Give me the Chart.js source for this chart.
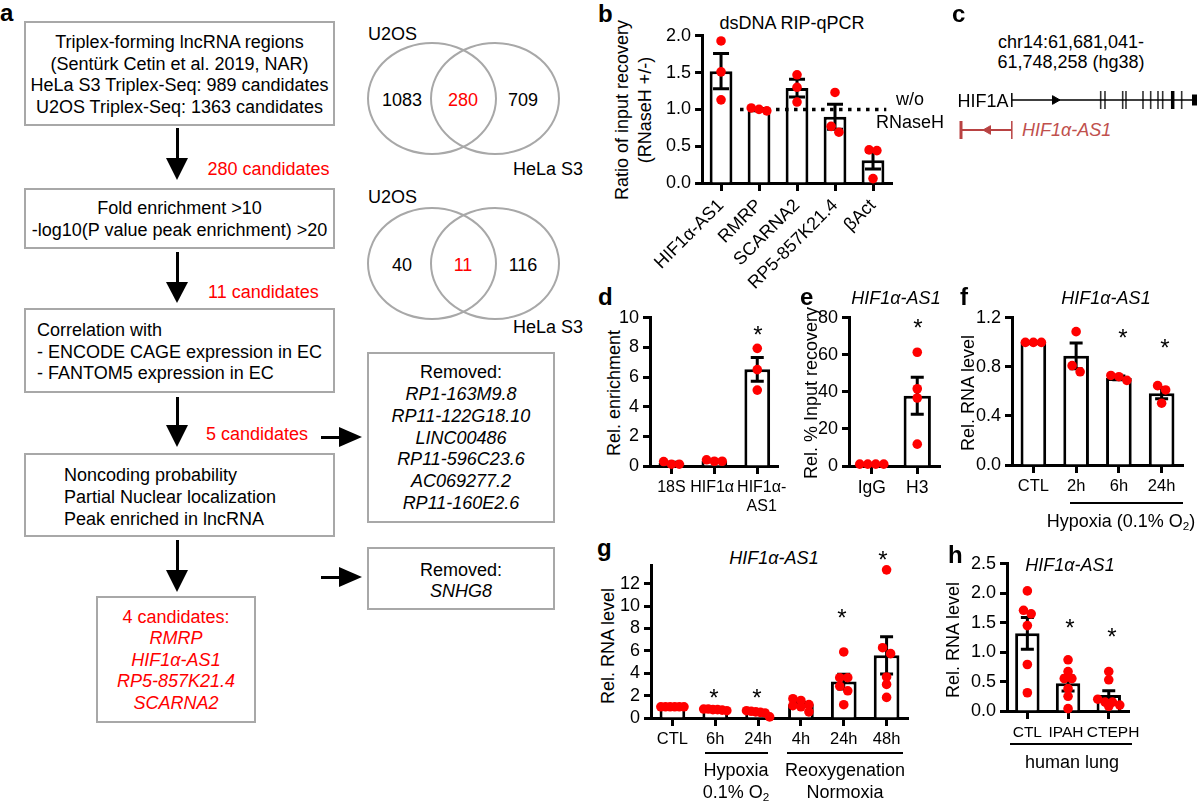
<!DOCTYPE html>
<html><head><meta charset="utf-8">
<script src="https://cdn.jsdelivr.net/npm/chart.js@4.4.1/dist/chart.umd.min.js"></script>
<style>
html,body{margin:0;padding:0;background:#fff}
body{width:1200px;height:802px;position:relative;overflow:hidden;font-family:"Liberation Sans",Arial,Helvetica,sans-serif;color:#000}
.t{position:absolute;white-space:nowrap;line-height:1;font-size:18px}
.box{position:absolute;box-sizing:border-box;border:2.5px solid #a8a8a8}
.ln{position:absolute;background:#000}
.tri{position:absolute;width:0;height:0}
.ell{position:absolute;box-sizing:border-box;border:2px solid #a8a8a8;border-radius:50%}
canvas{position:absolute}
sub{font-size:65%;vertical-align:-0.25em;line-height:0}
</style></head><body>
<script>
// ================= DATA =================
// Panel a (flow chart + Venn counts)
const box1Lines = ['Triplex-forming lncRNA regions','(Sentürk Cetin et al. 2019, NAR)','HeLa S3 Triplex-Seq: 989 candidates','U2OS Triplex-Seq: 1363 candidates'];
const box2Lines = ['Fold enrichment &gt;10','-log10(P value peak enrichment) &gt;20'];
const box3Lines = ['Correlation with','- ENCODE CAGE expression in EC','- FANTOM5 expression in EC'];
const box4Lines = ['Noncoding probability','Partial Nuclear localization','Peak enriched in lncRNA'];
const stepCounts = ['280 candidates','11 candidates','5 candidates'];
const finalCandidates = ['RMRP','HIF1α-AS1','RP5-857K21.4','SCARNA2'];
const removed1 = ['RP1-163M9.8','RP11-122G18.10','LINC00486','RP11-596C23.6','AC069277.2','RP11-160E2.6'];
const removed2 = ['SNHG8'];
const venn1 = [1083, 280, 709];
const venn2 = [40, 11, 116];
const vennSets = ['U2OS','HeLa S3'];

// Panel b
const bCats = ['HIF1α-AS1','RMRP','SCARNA2','RP5-857K21.4','βAct'];
const bMeans = [1.52, 1.00, 1.29, 0.90, 0.31];
const bSems = [0.24, 0.012, 0.12, 0.17, 0.12];
const bPoints = [[1.93,1.51,1.13],[0.98,1.02,1.00],[1.47,1.30,1.10],[1.23,0.77,0.69],[0.45,0.44,0.06]];
const bTicks = [0,0.5,1.0,1.5,2.0];
const bRef = 1.0;

// Panel c (hg38 coordinates)
const cRange = [61681041, 61748258];
const hifLine = [61695513, 61748258];
const hifExonsThin = [61720828,61722052,61727093,61728033,61732875,61735068,61737147,61738485,61743896];
const hifStartTick = [61695513];
const hifExonsThick = [61741333];
const hifExonEnd = [61747541];
const hifStrand = [61707812];
const asLine = [61681041, 61695513];
const asStrand = [61688731];

// Panel d
const dCats = ['18S','HIF1α ',['  HIF1α-','  AS1']];
const dMeans = [0.22, 0.35, 6.52];
const dSems = [0.04, 0.04, 0.80];
const dPoints = [[0.12,0.30,0.12],[0.32,0.42,0.32],[7.94,6.50,5.12]];
const dTicks = [0,2,4,6,8,10];

// Panel e
const eCats = ['IgG','H3'];
const eMeans = [1.0, 37.9];
const eSems = [0, 10.0];
const ePoints = [[1,1,1,1],[61.4,41.7,36.7,11.8]];
const eTicks = [0,20,40,60,80];

// Panel f
const fCats = ['CTL','2h','6h','24h'];
const fMeans = [1.0, 0.89, 0.71, 0.585];
const fSems = [0, 0.105, 0.015, 0.045];
const fPoints = [[1,1,1],[1.087,0.81,0.76],[0.69,0.72,0.73],[0.647,0.612,0.504]];
const fTicks = [0,0.2,0.4,0.6,0.8,1.0,1.2];

// Panel g
const gCats = ['CTL','6h','24h','4h','24h','48h'];
const gMeans = [1.0, 0.75, 0.5, 1.22, 3.26, 5.6];
const gSems = [0, 0.03, 0.08, 0.16, 0.66, 1.66];
const gPoints = [[1,1,1,1,1,1],[0.8,0.75,0.8,0.7,0.75,0.65],[0.65,0.6,0.55,0.5,0.45,0.1],[1.72,1.57,1.2,1.1,1.0,0.55],[5.9,3.6,3.6,2.84,2.43,1.19],[13.24,6.28,5.75,3.67,3.0,1.84]];
const gTicks = [0,2,4,6,8,10,12];

// Panel h
const hCats = ['CTL','IPAH ','  CTEPH'];
const hMeans = [1.32, 0.47, 0.27];
const hSems = [0.27, 0.13, 0.075];
const hPoints = [[2.04,1.71,1.65,1.45,0.79,0.31],[0.87,0.67,0.55,0.55,0.38,0.25,0.04],[0.67,0.53,0.2,0.15,0.15,0.1,0.08]];
const hTicks = [0,0.5,1.0,1.5,2.0,2.5];

// ================= HELPERS =================
const RED = '#ff0000';
function T(x,y,html,o={}){
  const d=document.createElement('div'); d.className='t'; d.innerHTML=html;
  d.style.left=x+'px'; d.style.top=y+'px';
  if(o.size) d.style.fontSize=o.size+'px';
  if(o.color) d.style.color=o.color;
  if(o.it) d.style.fontStyle='italic';
  if(o.bold) d.style.fontWeight='bold';
  let tr = o.align==='l' ? 'translate(0,-50%)' : 'translate(-50%,-50%)';
  if(o.rot) tr += ' rotate(-90deg)';
  d.style.transform=tr;
  document.body.appendChild(d); return d;
}
function R(x,y,w,h,cls,extra){
  const d=document.createElement('div'); d.className=cls;
  Object.assign(d.style,{left:x+'px',top:y+'px',width:w+'px',height:h+'px'},extra||{});
  document.body.appendChild(d); return d;
}
function vArrow(x,y1,y2,hl){
  R(x-1.5,y1,3,y2-hl-y1+1,'ln');
  R(x-11,y2-hl,0,0,'tri',{borderLeft:'11px solid transparent',borderRight:'11px solid transparent',borderTop:hl+'px solid #000'});
}
function hArrow(x1,x2,y,hl){
  R(x1,y-1.5,x2-hl-x1+1,3,'ln');
  R(x2-hl,y-10,0,0,'tri',{borderTop:'10px solid transparent',borderBottom:'10px solid transparent',borderLeft:hl+'px solid #000'});
}
function star(x,y){ T(x,y+5,'*',{size:24}); }
function letter(x,y,s){ T(x,y,s,{bold:true,size:24,align:'l'}); }
function hline(x1,x2,y){ R(x1,y-1,x2-x1,2,'ln'); }

// ================= PANEL A =================
letter(0,13,'a');
R(24,21,311,105,'box'); box1Lines.forEach((s,i)=>T(179.5,42+i*21.5,s));
vArrow(177,128,180,22);
T(268.5,169,stepCounts[0],{color:RED});
R(24,188,311,61,'box'); box2Lines.forEach((s,i)=>T(179.5,208+i*22,s));
vArrow(177,252,303,21);
T(263.5,292,stepCounts[1],{color:RED});
R(24,308,311,85,'box'); box3Lines.forEach((s,i)=>T(37,330+i*21.5,s,{align:'l'}));
vArrow(177,397,447,22);
T(257,434,stepCounts[2],{color:RED});
hArrow(321,362,437,23);
R(24,453,311,84,'box'); box4Lines.forEach((s,i)=>T(64,475+i*22,s,{align:'l'}));
vArrow(177,540,592,22);
hArrow(321,362,577,23);
R(96,596,160,127,'box');
T(176,617,finalCandidates.length+' candidates:',{color:RED});
finalCandidates.forEach((s,i)=>T(176,638+i*21.5,s,{color:RED,it:true}));
R(367,352,188,171,'box');
T(461,372,'Removed:'); removed1.forEach((s,i)=>T(461,394+i*21.8,s,{it:true}));
R(367,547,188,63,'box');
T(461,570,'Removed:'); removed2.forEach((s,i)=>T(461,591,s,{it:true}));
// Venn diagrams
[[42,venn1,34,169,100],[207,venn2,197,327,265]].forEach(([top,v,ly,hy,ny])=>{
  R(367,top,130,113,'ell'); R(430,top,130,113,'ell');
  T(392.5,ly,vennSets[0]); T(548,hy,vennSets[1]);
  T(402,ny,String(v[0])); T(463,ny,String(v[1]),{color:RED}); T(523,ny,String(v[2]));
});

// ================= CHARTS =================
Chart.defaults.font.family='"Liberation Sans", Arial, Helvetica, sans-serif';
Chart.defaults.font.size=18;
Chart.defaults.color='#000';

function swarm(vals,pxU,barW){
  const thr=6.3, step=8;
  const idx=vals.map((v,i)=>i).sort((a,b)=>vals[b]-vals[a]);
  const off=new Array(vals.length).fill(0);
  let row=[];
  const flush=()=>{const k=row.length; if(!k) return; const s=k>1?Math.min(step,(barW*0.9)/(k-1)):0; row.forEach((i,j)=>off[i]=(j-(k-1)/2)*s); row=[];};
  idx.forEach(i=>{ if(row.length && (vals[row[0]]-vals[i])*pxU>thr) flush(); row.push(i); });
  flush();
  return off;
}

function barChart(A,cats,means,sems,pts,yr,yTicks,fmt,o={}){
  const yW=48,padT=14,padR=10,xH=o.xH||40,cap=o.cap||6.5;
  const W=A.r-A.l+yW+padR, H=A.b-A.t+padT+xH;
  const cv=document.createElement('canvas'); cv.width=W; cv.height=H;
  Object.assign(cv.style,{left:(A.l-yW)+'px',top:(A.t-padT)+'px',width:W+'px',height:H+'px'});
  document.body.appendChild(cv);
  const n=cats.length, catW=(A.r-A.l)/n, barW=catW*0.6, pxU=(A.b-A.t)/(yr[1]-yr[0]);
  const data=[];
  pts.forEach((arr,i)=>{const off=swarm(arr,pxU,barW); arr.forEach((v,j)=>data.push({x:i+off[j]/catW,y:v}));});
  const err={id:'err',afterDatasetDraw(ch,args){
    if(args.index!==0) return;
    const c=ch.ctx,x=ch.scales.x,y=ch.scales.y;
    c.save(); c.strokeStyle='#000'; c.lineWidth=3;
    means.forEach((m,i)=>{const s=sems[i]; if(!s) return;
      const px=x.getPixelForValue(i),t=y.getPixelForValue(m+s),b=y.getPixelForValue(m-s);
      c.beginPath(); c.moveTo(px,t); c.lineTo(px,b);
      c.moveTo(px-cap,t); c.lineTo(px+cap,t); c.moveTo(px-cap,b); c.lineTo(px+cap,b); c.stroke();});
    c.restore();
    if(o.extra) o.extra(ch);
  }};
  return new Chart(cv,{type:'bar',data:{labels:cats,datasets:[
    {type:'bar',xAxisID:'x',yAxisID:'y',data:means,backgroundColor:'#fff',borderColor:'#000',borderWidth:3,barPercentage:0.6,categoryPercentage:1,grouped:false,order:2},
    {type:'scatter',xAxisID:'xp',yAxisID:'y',data:data,pointRadius:4.8,pointBackgroundColor:RED,pointBorderWidth:0,order:1,clip:false}
  ]},options:{responsive:false,animation:false,events:[],
    layout:{padding:{left:0,top:padT,right:padR,bottom:0}},
    plugins:{legend:{display:false},tooltip:{enabled:false}},
    scales:{
      x:{type:'category',offset:true,
         grid:{display:true,drawOnChartArea:false,offset:false,tickLength:8,tickWidth:3,tickColor:'#000'},
         border:{display:true,width:3,color:'#000'},
         ticks:{padding:4,maxRotation:o.rot||0,minRotation:o.rot||0,autoSkip:false,color:'#000',font:{size:o.xf||18}},
         afterFit:s=>{s.height=xH;}},
      xp:{type:'linear',display:false,offset:false,grace:0,bounds:'data',min:-0.5,max:n-0.5},
      y:{type:'linear',min:yr[0],max:yr[1],
         grid:{display:true,drawOnChartArea:false,tickLength:7,tickWidth:3,tickColor:'#000'},
         border:{display:true,width:3,color:'#000'},
         ticks:{padding:4,color:'#000',callback:v=>fmt(v)},
         afterBuildTicks:s=>{s.ticks=yTicks.map(v=>({value:v}));},
         afterFit:s=>{s.width=yW;}}
    }},plugins:[err]});
}
const f1=v=>Number(v).toFixed(1), f0=v=>String(Math.round(v));

// ---- Panel b ----
letter(598,14,'b');
T(792,23,'dsDNA RIP-qPCR');
T(622,110,'Ratio of input recovery',{rot:true});
T(645,110,'(RNaseH +/-)',{rot:true});
barChart({l:697,r:892,t:35,b:183},bCats,bMeans,bSems,bPoints,[0,2],bTicks,f1,{rot:45,xH:118,cap:8,extra:ch=>{
  const c=ch.ctx,xp=ch.scales.xp,y=ch.scales.y,py=y.getPixelForValue(bRef);
  c.save(); c.strokeStyle='#000'; c.lineWidth=3.5; c.setLineDash([3.5,5.5]);
  c.beginPath(); c.moveTo(xp.getPixelForValue(0.5),py); c.lineTo(xp.getPixelForValue(4.35),py); c.stroke(); c.restore();
}});
T(910,99,'w/o'); T(910,122,'RNaseH');

// ---- Panel c ----
letter(952,14,'c');
T(1071,42,'chr14:61,681,041-'); T(1071,62,'61,748,258 (hg38)');
T(983,101,'HIF1A');
T(1022,130,'HIF1α-AS1',{it:true,color:'#c0504d',align:'l'});
(function(){
  const A={l:961,r:1197,t:70,b:160}, p=14;
  const cv=document.createElement('canvas'); const W=A.r-A.l+2*p, H=A.b-A.t+2*p;
  cv.width=W; cv.height=H; Object.assign(cv.style,{left:(A.l-p)+'px',top:(A.t-p)+'px',width:W+'px',height:H+'px'});
  document.body.appendChild(cv);
  const pts=(arr,y)=>arr.map(x=>({x,y}));
  const sc=(arr,y,st,rot,r,bw,col)=>({type:'scatter',data:pts(arr,y),pointStyle:st,pointRotation:rot,pointRadius:r,pointBorderWidth:bw,pointBorderColor:col,pointBackgroundColor:col,clip:false});
  const AS='#b84242';
  new Chart(cv,{type:'scatter',data:{datasets:[
    {type:'line',data:pts(hifLine,2),borderColor:'#000',borderWidth:1.5,pointRadius:0,clip:false},
    sc(hifStartTick,2,'line',90,7,1.5,'#000'),
    sc(hifExonsThin,2,'line',90,9,1.6,'#333'),
    sc(hifExonsThick,2,'line',90,9,3.5,'#000'),
    sc(hifExonEnd,2,'line',90,5.5,5,'#000'),
    sc(hifStrand,2,'triangle',90,5,1,'#000'),
    {type:'line',data:pts(asLine,1),borderColor:AS,borderWidth:2.2,pointRadius:0,clip:false},
    sc([asLine[0]],1,'line',90,9,3,AS),
    sc([asLine[1]],1,'line',90,9,1.5,AS),
    sc(asStrand,1,'triangle',270,5,1,AS)
  ]},options:{responsive:false,animation:false,events:[],layout:{padding:p},
    plugins:{legend:{display:false},tooltip:{enabled:false}},
    scales:{x:{type:'linear',display:false,offset:false,min:cRange[0],max:cRange[1]},y:{type:'linear',display:false,min:0,max:3}}}});
})();

// ---- Panel d ----
letter(598,297,'d');
T(614,393,'Rel. enrichment',{rot:true});
barChart({l:650,r:782,t:317,b:466},dCats,dMeans,dSems,dPoints,[0,10],dTicks,f0,{xH:62,xf:16});
star(758,330);

// ---- Panel e ----
letter(800,297,'e');
T(896,298,'HIF1α-AS1',{it:true});
T(811,393,'Rel. % Input recovery',{rot:true});
barChart({l:849,r:940,t:317,b:466},eCats,eMeans,eSems,ePoints,[0,80],eTicks,f0,{xH:40,xf:17.5});
star(918,323);

// ---- Panel f ----
letter(960,297,'f');
T(1106,298,'HIF1α-AS1',{it:true});
T(968,393,'Rel. RNA level',{rot:true});
barChart({l:1012,r:1183,t:317,b:465},fCats,fMeans,fSems,fPoints,[0,1.2],fTicks,f1,{xH:40,xf:16.5});
star(1123,333); star(1165,343);
hline(1070,1183,503);
T(1121,521,'Hypoxia (0.1% O<sub>2</sub>)');

// ---- Panel g ----
letter(597,548,'g');
T(774,558,'HIF1α-AS1',{it:true});
T(608,646,'Rel. RNA level',{rot:true});
barChart({l:651,r:908,t:565,b:718},gCats,gMeans,gSems,gPoints,[0,13.6],gTicks,f0,{xH:40,xf:16.5});
star(714,693); star(757,693); star(842,613); star(883,555);
hline(705,768,753); hline(787,903,753);
T(736,770,'Hypoxia'); T(736,792,'0.1% O<sub>2</sub>');
T(845,770,'Reoxygenation'); T(845,792,'Normoxia');

// ---- Panel h ----
letter(948,555,'h');
T(1070,565,'HIF1α-AS1',{it:true});
T(953,640,'Rel. RNA level',{rot:true});
barChart({l:1007,r:1135,t:563,b:711},hCats,hMeans,hSems,hPoints,[0,2.5],hTicks,f1,{xH:40,xf:15.5});
star(1070,623); star(1112,632);
hline(1010,1132,744);
T(1072,762,'human lung');
</script>
</body></html>
